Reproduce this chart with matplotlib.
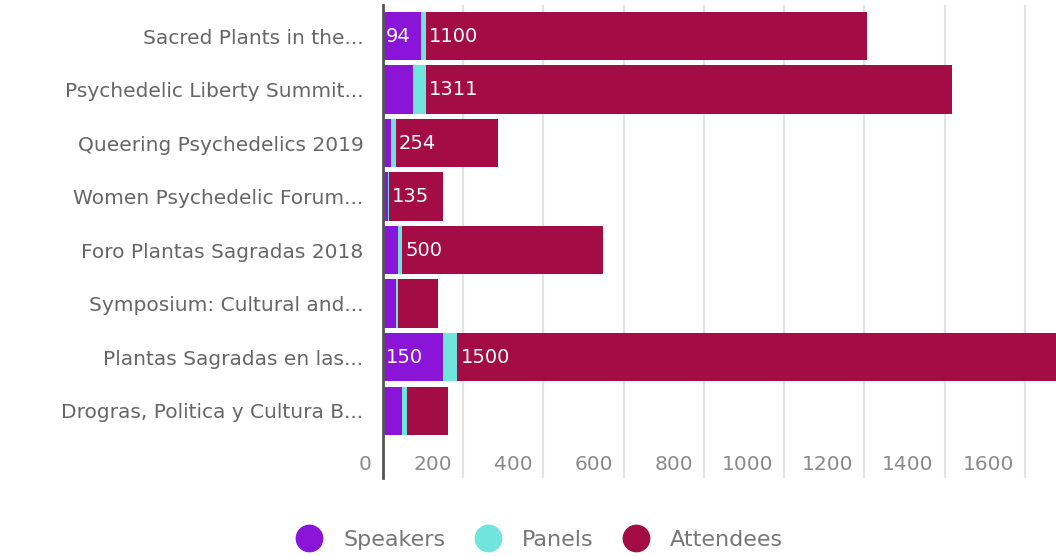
import numpy as np
import matplotlib
matplotlib.use('Agg')
import matplotlib.pyplot as plt
import matplotlib.transforms as mtransforms
from matplotlib.lines import Line2D

# data
events = ['Sacred Plants in the...', 'Psychedelic Liberty Summit...',
          'Queering Psychedelics 2019', 'Women Psychedelic Forum...',
          'Foro Plantas Sagradas 2018', 'Symposium: Cultural and...',
          'Plantas Sagradas en las...', 'Drogras, Politica y Cultura B...']
speakers = [94, 75, 20, 12, 38, 32, 150, 48]
panels = [12, 32, 12, 2, 10, 5, 35, 12]
attendees = [1100, 1311, 254, 135, 500, 100, 1500, 103]
series_names = ['Speakers', 'Panels', 'Attendees']
xticks = [0, 200, 400, 600, 800, 1000, 1200, 1400, 1600]

colors = ['#8a15d9', '#72e4de', '#a30c45']
font = 'DejaVu Sans'
plt.rcParams['font.family'] = [font]

W, H = 1056, 556
fig = plt.figure(figsize=(W / 100, H / 100), dpi=100)
ax = fig.add_axes([383 / W, 1 - 478 / H, 1 - 383 / W, 473 / H])

y = np.arange(len(events))
left = np.zeros(len(events))
for name, vals, c in zip(series_names, [speakers, panels, attendees], colors):
    bars = ax.barh(y, vals, left=left, height=0.9, color=c, label=name, zorder=3)
    # only label segments wide enough to hold the number
    labels = [str(v) if v >= 40 * len(str(v)) else '' for v in vals]
    for rect, lab in zip(bars, labels):
        if lab:
            ax.text(rect.get_x() + 8, rect.get_y() + rect.get_height() / 2, lab,
                    color='white', fontsize=14, ha='left', va='center', zorder=4)
    left += np.array(vals)

ax.set_xlim(0, 1678)
ax.set_ylim(8.26, -0.58)
ax.set_yticks(y)
ax.set_yticklabels(events, color='#666666', fontsize=14.5)
ax.tick_params(axis='y', length=0, pad=14)

ax.set_xticks(xticks)
ax.set_xticklabels([str(t) for t in xticks], color='#8a8a8a', fontsize=14.5,
                   ha='right', va='center')
ax.tick_params(axis='x', length=0, pad=-10)
offset = mtransforms.ScaledTranslation(-11 / 100, 0, fig.dpi_scale_trans)
for lab in ax.get_xticklabels():
    lab.set_transform(lab.get_transform() + offset)

ax.grid(axis='x', color='#e3e3e3', linewidth=1.6, zorder=0)
for s in ['top', 'right', 'bottom']:
    ax.spines[s].set_visible(False)
ax.spines['left'].set_color('#555555')
ax.spines['left'].set_linewidth(2)
ax.spines['left'].set_zorder(5)

handles = [Line2D([], [], marker='o', linestyle='', markersize=19,
                  markerfacecolor=c, markeredgecolor=c) for c in colors]
fig.legend(handles, series_names, loc='center', bbox_to_anchor=(535 / W, 1 - 540 / H),
           ncol=3, frameon=False, fontsize=16, labelcolor='#777777',
           handletextpad=0.55, columnspacing=0.9)

fig.savefig('out.png', dpi=100)
